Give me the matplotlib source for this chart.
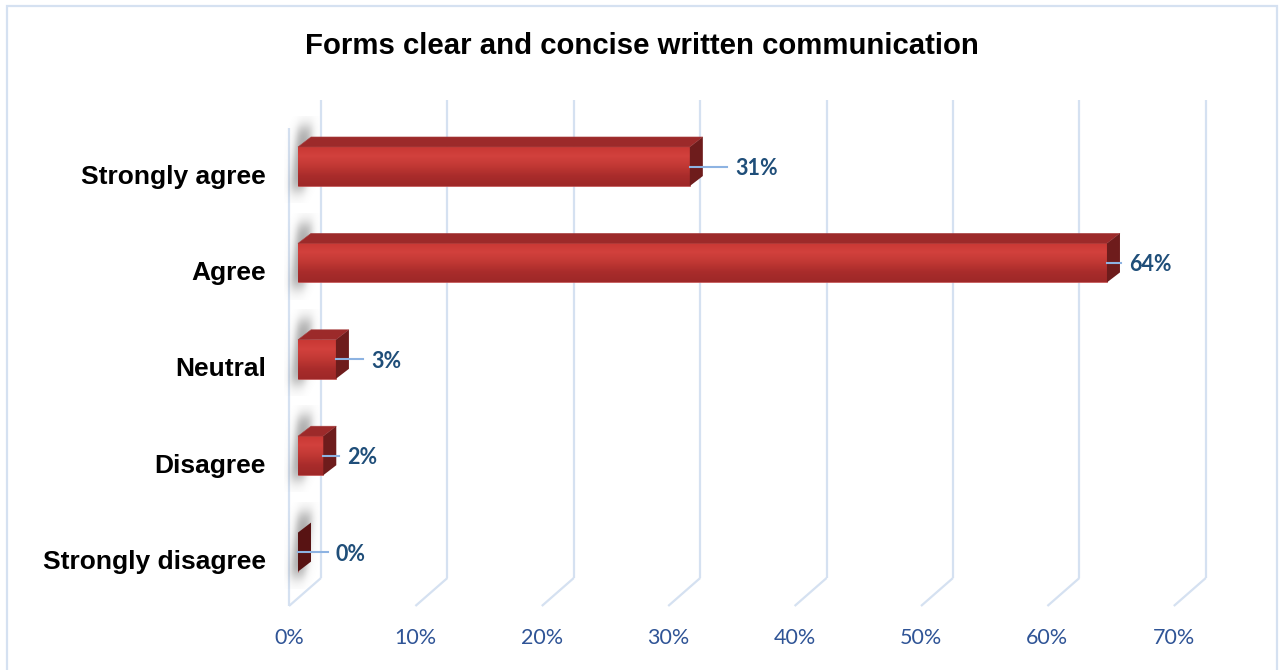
import numpy as np
import matplotlib
matplotlib.use("Agg")
import matplotlib.pyplot as plt
import matplotlib.transforms as mtransforms
from matplotlib.lines import Line2D
from matplotlib.patches import Polygon, Rectangle
from matplotlib.colors import LinearSegmentedColormap

# Survey data
TITLE = "Forms clear and concise written communication"
CATEGORIES = ["Strongly agree", "Agree", "Neutral", "Disagree", "Strongly disagree"]
PERCENTS = [31, 64, 3, 2, 0]
X_TICKS = [0, 10, 20, 30, 40, 50, 60, 70]

# Canvas / layout (pixels)
W, H, DPI = 1279, 670, 100
PX0 = 298          # 0% on the bar plane
PX_PER = 12.64     # pixels per percent
PLANE_TOP, PLANE_BOT = 120, 598
ROW0, ROW_STEP = 166.5, 96.4
BAR_H = 0.405
FLOOR_FRONT = (-9, -8)
FLOOR_BACK = (23, 20)
BAR_DEPTH = (13, 10)
LABEL_PAD = [45, 22, 35, 24, 38]

C_GRID = "#D5E1F1"
C_LEADER = "#8DB3E2"
C_LABEL = "#1F4E79"
C_TICK = "#2F5496"
C_TOP = "#9C2A2A"
C_SIDE = "#6E1C1C"

fig = plt.figure(figsize=(W / DPI, H / DPI), dpi=DPI)
xmax = X_TICKS[-1]
ax = fig.add_axes([PX0 / W, (H - PLANE_BOT) / H,
                   xmax * PX_PER / W, (PLANE_BOT - PLANE_TOP) / H])
ax.set_xlim(0, xmax)
y_bot = (PLANE_BOT - ROW0) / ROW_STEP
y_top = (PLANE_TOP - ROW0) / ROW_STEP
ax.set_ylim(y_bot, y_top)
ax.axis("off")

IDENT = mtransforms.IdentityTransform()


def px(x, y, off=(0, 0)):
    X, Y = ax.transData.transform((x, y))
    return X + off[0], Y + off[1]


def seg(p, q, **kw):
    ax.add_line(Line2D([p[0], q[0]], [p[1], q[1]], transform=IDENT,
                       clip_on=False, **kw))


def shifted(dx, dy):
    return mtransforms.offset_copy(ax.transData, fig, x=dx, y=dy, units="dots")


# walls / floor grid
for v in X_TICKS:
    bb = px(v, y_bot, FLOOR_BACK)
    bt = px(v, y_top, FLOOR_BACK)
    fb = px(v, y_bot, FLOOR_FRONT)
    seg(bb, bt, color=C_GRID, lw=1.6, zorder=0.5, solid_capstyle="butt")
    seg(bb, fb, color=C_GRID, lw=1.6, zorder=0.5, solid_capstyle="butt")
seg(px(0, y_bot, FLOOR_FRONT), px(0, y_top, FLOOR_FRONT),
    color=C_GRID, lw=1.6, zorder=0.5, solid_capstyle="butt")


# soft shadows cast on the side wall (slanted with the depth)
def soft(t, a, b, w):
    return 0.5 * (np.tanh((t - a) / w) - np.tanh((t - b) / w))

sx = np.linspace(0, 1, 60)
sy = np.linspace(0, 1, 120)
shadow = np.zeros((len(sy), len(sx), 4))
shadow[..., :3] = 0.5
for r, t in enumerate(sy):
    c = 0.62 - 0.28 * t
    shadow[r, :, 3] = 0.7 * soft(t, 0.12, 0.86, 0.1) * soft(sx, c - 0.2, c + 0.2, 0.13)
for i in range(len(CATEGORIES)):
    im = ax.imshow(shadow, extent=(-1.1, 1.7, i + 0.38, i - 0.52),
                   aspect="auto", interpolation="bilinear", zorder=1)
    im.set_clip_on(False)

# front-face gradient
grad_cmap = LinearSegmentedColormap.from_list(
    "face", ["#C93834", "#D2413D", "#C13834", "#A92C2B", "#9E2828"])
grad = np.linspace(0, 1, 64).reshape(-1, 1)

bars = ax.barh(range(len(CATEGORIES)), PERCENTS, height=BAR_H,
               color="#B83331", edgecolor="#C05050", linewidth=0.5, zorder=3)

for i, (v, bar) in enumerate(zip(PERCENTS, bars)):
    t, b = i - BAR_H / 2, i + BAR_H / 2
    if v > 0:
        g = ax.imshow(grad, cmap=grad_cmap, extent=(0, v, b, t),
                      aspect="auto", interpolation="bilinear", zorder=3.1)
        g.set_clip_path(bar)
        top = [px(0, t), px(v, t), px(v, t, BAR_DEPTH), px(0, t, BAR_DEPTH)]
        ax.add_patch(Polygon(top, closed=True, transform=IDENT, clip_on=False,
                             facecolor=C_TOP, edgecolor="#A84040", lw=0.4,
                             zorder=3.2))
    side = [px(v, t), px(v, t, BAR_DEPTH), px(v, b, BAR_DEPTH), px(v, b)]
    ax.add_patch(Polygon(side, closed=True, transform=IDENT, clip_on=False,
                         facecolor=C_SIDE if v > 0 else "#581313",
                         edgecolor="none", zorder=3.2))

    # leader line + value label
    pad = LABEL_PAD[i]
    start = px(v, i)
    seg(start, (start[0] + pad - 8, start[1]), color=C_LEADER, lw=1.5,
        zorder=4)
    ax.text(v, i, f"{v}%", transform=shifted(pad, -2),
            ha="left", va="center", fontsize=15.5, fontweight="bold",
            family="Lato", color=C_LABEL, zorder=5)

# category labels, aligned with the front of the floor
for i, name in enumerate(CATEGORIES):
    ax.text(0, i, name, transform=shifted(-32, -10), ha="right", va="center",
            fontsize=19, fontweight="bold", family="Liberation Sans",
            color="black")

# axis tick labels along the front edge of the floor
for v in X_TICKS:
    ax.text(v, y_bot, f"{v}%", transform=shifted(FLOOR_FRONT[0], -40),
            ha="center", va="center", fontsize=15.5, family="Lato",
            color=C_TICK)

fig.text(0.502, 1 - 46 / H, TITLE, ha="center", va="center",
         fontsize=21.2, fontweight="bold", family="Liberation Sans")

# chart area border
fig.add_artist(Rectangle((7, -10), 1270, H - 6 + 10, transform=IDENT,
                         fill=False, edgecolor=C_GRID, lw=1.6))

fig.savefig("out.png", dpi=DPI)
